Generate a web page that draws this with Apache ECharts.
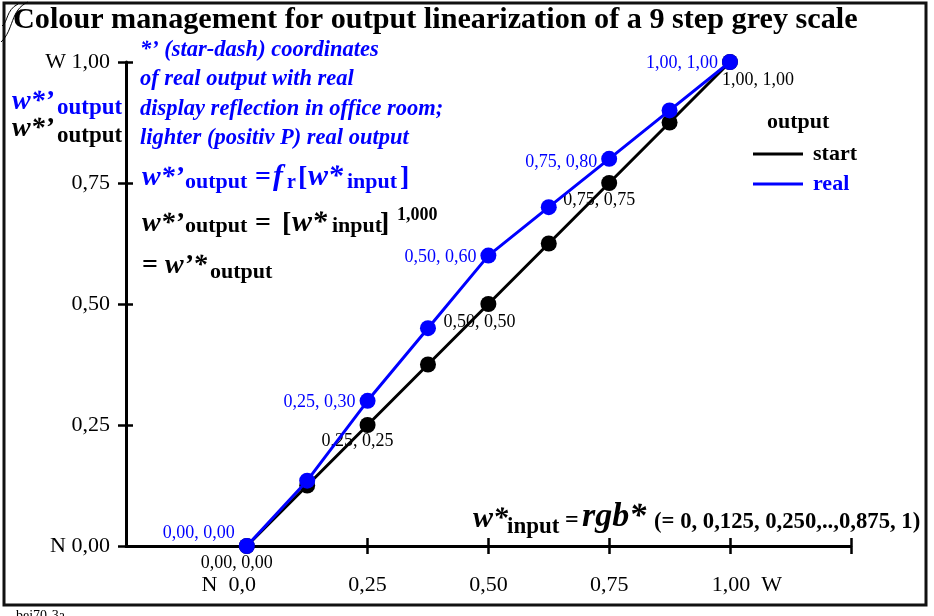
<!DOCTYPE html>
<html><head><meta charset="utf-8">
<script src="https://cdn.jsdelivr.net/npm/echarts@6/dist/echarts.min.js"></script>
<style>html,body{margin:0;padding:0;background:#fff}#c{width:934px;height:616px}</style>
</head><body><div id="c"></div>
<script>
// ---- data ----
const xInput = [0, 0.125, 0.25, 0.375, 0.5, 0.625, 0.75, 0.875, 1.0];
const yStart = [0, 0.125, 0.25, 0.375, 0.5, 0.625, 0.75, 0.875, 1.0];
const yReal  = [0, 0.135, 0.30, 0.45, 0.60, 0.70, 0.80, 0.90, 1.00];
const labeledIdx = [0, 2, 4, 6, 8];
const seriesNames = ['start', 'real'];
const xTickValues = [0.25, 0.5, 0.75, 1.0, 1.25];
const xLabelValues = [0, 0.25, 0.5, 0.75, 1.0];
const yTickValues = [0, 0.25, 0.5, 0.75, 1.0];
const yLabelValues = [0, 0.25, 0.5, 0.75, 1.0];

// ---- styles ----
const BLUE = '#0000ff';
const FF = '"Liberation Serif", "Times New Roman", serif';
const GRID = { left: 126, right: 83.25, top: 62, bottom: 70 };
const GW = 934 - GRID.left - GRID.right, GH = 616 - GRID.top - GRID.bottom;
const blackLabelOffsets = [[-10, 17], [-10, 16], [-9, 18], [-10, 17], [28, 18]];
const blueLabelOffsets = [[0, -13], [0, 1], [0, 2], [0, 3], [0, 1]];
const TEXT_SHIFT = 3;

const fmt = v => v.toFixed(2).replace('.', ',');

function buildData(ys, isBlue) {
  return xInput.map((x, i) => {
    const k = labeledIdx.indexOf(i);
    const item = { value: [x, ys[i]] };
    if (k >= 0) {
      item.label = isBlue
        ? { show: true, position: 'left', distance: 4, offset: blueLabelOffsets[k] }
        : { show: true, position: 'inside', offset: blackLabelOffsets[k] };
    } else {
      item.label = { show: false };
    }
    return item;
  });
}

// ---- text layout helper ----
const mctx = document.createElement('canvas').getContext('2d');
function fontStr(p) { return (p.i ? 'italic ' : '') + (p.b ? 'bold ' : '') + p.s + 'px ' + FF; }
function seq(x, base, parts, color) {
  const out = []; let cx = x;
  parts.forEach(p => {
    const f = fontStr(p);
    mctx.font = f;
    if (p.ax !== undefined) cx = p.ax;
    const w = mctx.measureText(p.t).width;
    out.push({
      type: 'text', silent: true, z: 50,
      x: cx, y: base + (p.dy || 0) - 0.3375 * p.s + TEXT_SHIFT,
      style: { text: p.t, font: f, fill: p.c || color, align: 'left', verticalAlign: 'middle',
               textAlign: 'left', textVerticalAlign: 'middle' }
    });
    cx += w;
  });
  return out;
}

const g = [];
// frame
g.push({ type: 'rect', silent: true, z: 40, shape: { x: 4, y: 3, width: 922, height: 602 },
  style: { fill: 'none', stroke: '#111', lineWidth: 3 } });
// corner decoration
g.push({ type: 'bezierCurve', silent: true, z: 41, shape: { x1: 1, y1: 42, x2: 28, y2: 2, cpx1: 14, cpy1: 30, cpx2: 10, cpy2: 10 },
  style: { stroke: '#000', lineWidth: 1, fill: 'none' } });
g.push({ type: 'bezierCurve', silent: true, z: 41, shape: { x1: 2, y1: 26, x2: 18, y2: 4, cpx1: 8, cpy1: 22, cpx2: 6, cpy2: 10 },
  style: { stroke: '#000', lineWidth: 1, fill: 'none' } });
// title
g.push(...seq(13, 27, [{ t: 'Colour management for output linearization of a 9 step grey scale', s: 30.2, b: true }], '#000'));
// y axis name
g.push(...seq(12, 108, [{ t: "w*’", s: 28, b: 1, i: 1 }, { t: 'output', s: 23, b: 1, dy: 5, ax: 57 }], BLUE));
g.push(...seq(12, 135, [{ t: "w*’", s: 28, b: 1, i: 1 }, { t: 'output', s: 23, b: 1, dy: 6, ax: 57 }], '#000'));
// blue note block
const noteLines = ["*’ (star-dash) coordinates", 'of real output with real',
  'display reflection in office room;', 'lighter (positiv P) real output'];
noteLines.forEach((t, i) => g.push(...seq(140, 54.5 + 29.5 * i, [{ t, s: 22.5, b: 1, i: 1 }], BLUE)));
// formula 1 (blue)
g.push(...seq(142, 184, [
  { t: "w*’", s: 28, b: 1, i: 1 }, { t: 'output', s: 22, b: 1, dy: 3, ax: 185 },
  { t: '=', s: 28, b: 1, ax: 255 }, { t: 'f', s: 30, b: 1, i: 1, ax: 273 }, { t: 'r', s: 20, b: 1, dy: 3, ax: 287 },
  { t: '[', s: 28, b: 1, ax: 298 }, { t: 'w*', s: 30, b: 1, i: 1, ax: 308 }, { t: 'input', s: 22, b: 1, dy: 3, ax: 347 },
  { t: ']', s: 28, b: 1, ax: 400 }], BLUE));
// formula 2 (black)
g.push(...seq(142, 230, [
  { t: "w*’", s: 28, b: 1, i: 1 }, { t: 'output', s: 22, b: 1, dy: 1, ax: 185 },
  { t: '=', s: 28, b: 1, ax: 255 }, { t: '[', s: 28, b: 1, ax: 282 }, { t: 'w*', s: 30, b: 1, i: 1, ax: 292 },
  { t: 'input', s: 22, b: 1, dy: 1, ax: 332 },
  { t: ']', s: 28, b: 1, ax: 380 }, { t: '1,000', s: 18, b: 1, dy: -12, ax: 397 }], '#000'));
// formula 3 (black)
g.push(...seq(142, 272, [
  { t: '=', s: 28, b: 1 }, { t: "w’*", s: 28, b: 1, i: 1, ax: 165 }, { t: 'output', s: 22, b: 1, dy: 5, ax: 210 }], '#000'));
// x axis formula
g.push(...seq(473, 526, [
  { t: 'w*', s: 30, b: 1, i: 1 }, { t: 'input', s: 23, b: 1, dy: 6, ax: 507 }, { t: '=', s: 24, b: 1, ax: 565 },
  { t: 'rgb*', s: 34, b: 1, i: 1, ax: 582 }, { t: '(= 0, 0,125, 0,250,..,0,875, 1)', s: 22.7, b: 1, dy: 1, ax: 654 }], '#000'));
// legend title
g.push(...seq(767, 127, [{ t: 'output', s: 22, b: 1 }], '#000'));
// footer
g.push({ type: 'text', silent: true, x: 16, y: 609, style: { text: 'bei70-3a', font: '14px ' + FF, fill: '#000', align: 'left', verticalAlign: 'top' } });

const axisLineStyle = { color: '#000', width: 3 };
const tickStyle = { color: '#000', width: 2.5 };

const chart = echarts.init(document.getElementById('c'), null, { renderer: 'canvas' });
chart.setOption({
  animation: false,
  backgroundColor: '#fff',
  grid: { left: GRID.left, right: GRID.right, top: GRID.top, bottom: GRID.bottom, containLabel: false },
  xAxis: [{
    type: 'value', min: -0.25, max: 1.25, position: 'bottom',
    axisLine: { show: true, onZero: false, lineStyle: axisLineStyle },
    axisTick: { show: true, customValues: xTickValues, length: 8, inside: true, lineStyle: tickStyle },
    axisLabel: {
      customValues: xLabelValues, margin: 28, color: '#000', fontFamily: FF, fontSize: 22,
      formatter: v => v === 0 ? '{l|N  0,0}' : (v === 1 ? '{r|1,00  W}' : fmt(v)),
      rich: { l: { fontFamily: FF, fontSize: 22, color: '#000', padding: [0, 36, 0, 0] },
              r: { fontFamily: FF, fontSize: 22, color: '#000', padding: [0, 0, 0, 34] } }
    },
    splitLine: { show: false }
  }, {
    // lower halves of the crossing ticks (top axis moved onto the bottom edge)
    type: 'value', min: -0.25, max: 1.25, position: 'top', offset: -GH,
    axisLine: { show: false, onZero: false },
    axisTick: { show: true, customValues: xTickValues, length: 8, inside: true, lineStyle: tickStyle },
    axisLabel: { show: false }, splitLine: { show: false }
  }],
  yAxis: [{
    type: 'value', min: 0, max: 1, position: 'left',
    axisLine: { show: true, onZero: false, lineStyle: axisLineStyle },
    axisTick: { show: true, customValues: yTickValues, length: 7, inside: true, lineStyle: tickStyle },
    axisLabel: {
      customValues: yLabelValues, margin: 16, color: '#000', fontFamily: FF, fontSize: 22,
      formatter: v => v === 0 ? 'N 0,00' : (v === 1 ? 'W 1,00' : fmt(v))
    },
    splitLine: { show: false }
  }, {
    type: 'value', min: 0, max: 1, position: 'right', offset: -GW,
    axisLine: { show: false, onZero: false },
    axisTick: { show: true, customValues: yTickValues, length: 8, inside: true, lineStyle: tickStyle },
    axisLabel: { show: false }, splitLine: { show: false }
  }],
  legend: {
    show: true, orient: 'vertical', left: 748, top: 138, itemWidth: 50, itemHeight: 3, itemGap: 8,
    icon: 'rect', selectedMode: false,
    textStyle: { fontFamily: FF, fontSize: 22, fontWeight: 'bold', padding: [0, 0, 0, 5] },
    data: [{ name: seriesNames[0], textStyle: { color: '#000' } }, { name: seriesNames[1], textStyle: { color: BLUE } }]
  },
  series: [
    {
      name: seriesNames[0], type: 'line', z: 2, symbol: 'circle', symbolSize: 16, showAllSymbol: true,
      xAxisIndex: 0, yAxisIndex: 0,
      itemStyle: { color: '#000' }, lineStyle: { color: '#000', width: 3 },
      label: { color: '#000', fontFamily: FF, fontSize: 18, formatter: p => fmt(p.value[0]) + ', ' + fmt(p.value[1]) },
      data: buildData(yStart, false)
    },
    {
      name: seriesNames[1], type: 'line', z: 3, symbol: 'circle', symbolSize: 16, showAllSymbol: true,
      xAxisIndex: 0, yAxisIndex: 0,
      itemStyle: { color: BLUE }, lineStyle: { color: BLUE, width: 3 },
      label: { color: BLUE, fontFamily: FF, fontSize: 18, formatter: p => fmt(p.value[0]) + ', ' + fmt(p.value[1]) },
      data: buildData(yReal, true)
    }
  ],
  graphic: g
});
</script></body></html>
